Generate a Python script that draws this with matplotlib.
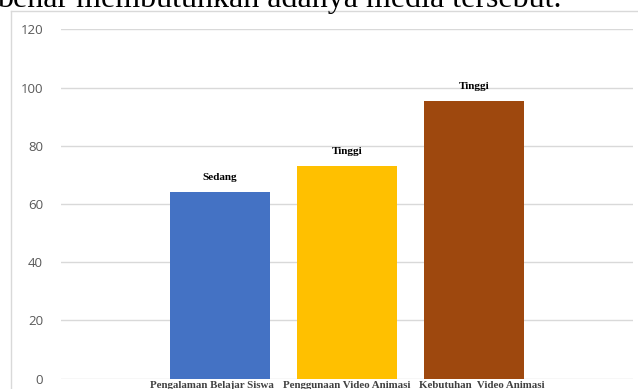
import matplotlib
matplotlib.use("Agg")
import matplotlib.pyplot as plt
from matplotlib.lines import Line2D

categories = ["Pengalaman Belajar Siswa", "Penggunaan Video Animasi", "Kebutuhan  Video Animasi"]
values = [64, 73, 95.3]
labels = ["Sedang", "Tinggi", "Tinggi"]
colors = ["#4472C4", "#FFC000", "#9E480E"]
yticks = [0, 20, 40, 60, 80, 100, 120]

W, H = 638, 389
fig = plt.figure(figsize=(W / 100, H / 100), dpi=100)

def fx(px):
    return px / W

def fy(py):
    return 1 - py / H

# document text above the chart (cut off)
fig.text(fx(-3), fy(7.3), "benar membutuhkan adanya media tersebut.",
         family="Liberation Serif", fontsize=23, color="black",
         ha="left", va="baseline")

# chart area border
fig.add_artist(Line2D([fx(10.5), fx(10.5)], [fy(10.5), fy(400)],
                      transform=fig.transFigure, color="#d9d9d9", lw=1.0))
fig.add_artist(Line2D([fx(10.5), fx(650)], [fy(10.5), fy(10.5)],
                      transform=fig.transFigure, color="#d9d9d9", lw=1.0))

left, right = 61, 633
top, bottom = 29.3, 378.7
ax = fig.add_axes([fx(left), fy(bottom), fx(right) - fx(left), fy(top) - fy(bottom)])

x = list(range(len(categories)))
ax.bar(x, values, width=0.787, color=colors, zorder=3)

ax.set_ylim(0, 120)
ax.set_xlim(-1.252, 3.252)
ax.set_yticks(yticks)
ax.set_yticklabels([str(t) for t in yticks], family="Open Sans", fontsize=9.5, color="#595959")
ax.tick_params(axis="y", length=0, pad=13)
ax.set_xticks([])
for s in ax.spines.values():
    s.set_visible(False)
ax.yaxis.grid(True, color="#d9d9d9", lw=1.0, zorder=0)
ax.set_axisbelow(True)

for xi, v, lab in zip(x, values, labels):
    ax.annotate(lab, (xi, v), xytext=(0, 10.5), textcoords="offset points",
                ha="center", va="center", family="Liberation Serif",
                fontweight="bold", fontsize=8, color="black")

# category labels are spread slightly wider than the bars in the original
mid = (len(categories) - 1) / 2
for xi, cat in zip(x, categories):
    ax.annotate(cat, (mid + (xi - mid) * 1.063, 0), xytext=(0, -2),
                textcoords="offset points",
                ha="center", va="top", family="Liberation Serif",
                fontweight="bold", fontsize=7.8, color="#404040",
                annotation_clip=False)

fig.savefig("out.png", dpi=100, facecolor="white")
